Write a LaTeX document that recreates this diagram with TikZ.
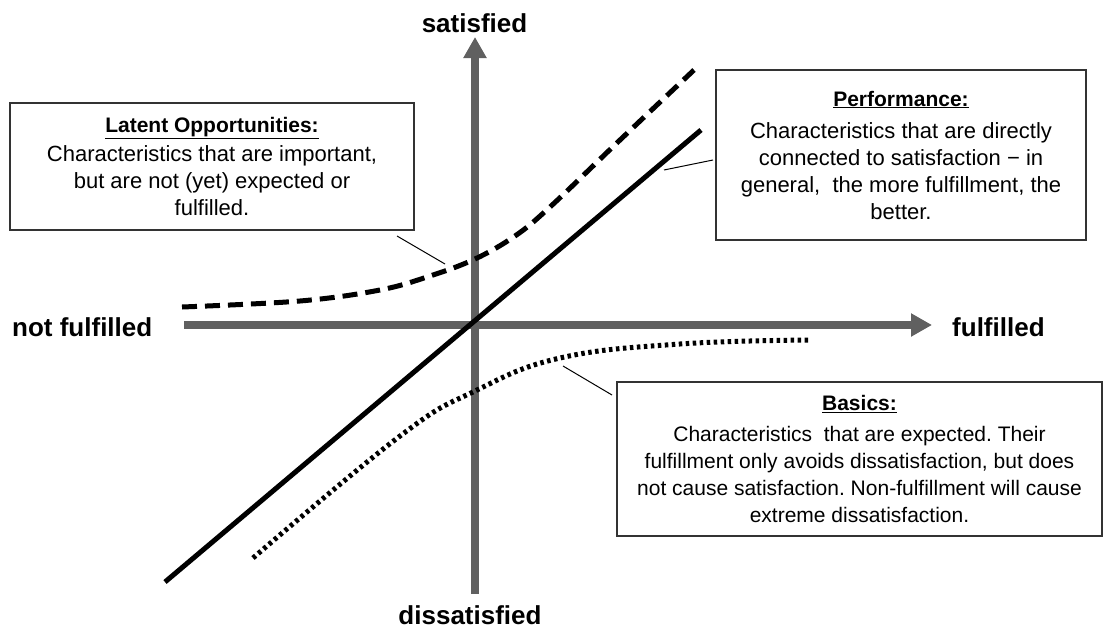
\documentclass[tikz,border=0pt]{standalone}
\usepackage{fontspec}
\setmainfont{Liberation Sans}[Ligatures=NoCommon]
\usetikzlibrary{arrows.meta}
\definecolor{axisgray}{HTML}{606060}
\definecolor{boxline}{HTML}{333333}
\newcommand{\boxtitle}[1]{{\fontsize{21}{27}\selectfont\underline{\textbf{#1}}}}
\begin{document}
\frenchspacing
\begin{tikzpicture}[x=1pt,y=-1pt,
  axisline/.style={draw=axisgray, line width=8pt, -{Triangle[width=22pt,length=21pt]}},
  axislabel/.style={font=\fontsize{26}{30}\selectfont\bfseries, inner sep=0pt},
  kbox/.style={draw=boxline, line width=1.2pt, fill=white, align=center, inner sep=0pt,
    font=\fontsize{22}{27}\selectfont},
  solidline/.style={draw=black, line width=5pt},
  dashcurve/.style={draw=black, line width=5pt, dash pattern=on 15pt off 8pt},
  dotcurve/.style={draw=black, line width=5pt, dash pattern=on 3.5pt off 3.5pt},
  leader/.style={draw=black, line width=1pt}]
\useasboundingbox (0,0) rectangle (1104,629);

% axes
\coordinate (ybot) at (475,594);
\coordinate (ytop) at (475,37);
\coordinate (xleft) at (184,325);
\coordinate (xright) at (932,325);
\draw[axisline] (xleft) -- (xright);
\draw[axisline] (ybot) -- (ytop);

% axis labels
\node[axislabel, anchor=base] (sat) at (474.5,32) {satisfied};
\node[axislabel, anchor=base west] (notful) at (12,336) {not fulfilled};
\node[axislabel, anchor=base west] (ful) at (952,336) {fulfilled};
\node[axislabel, anchor=base] (dissat) at (470,624) {dissatisfied};

% curves
\coordinate (s1) at (165,582);
\coordinate (s2) at (701,130);
\draw[solidline] (s1) -- (s2);
\draw[dashcurve] plot[smooth, tension=0.6] coordinates {(182,307) (300,301) (380,290) (430,276) (475,259) (515,236) (550,207) (620,140) (694,70)};
\draw[dotcurve] plot[smooth, tension=0.7] coordinates {(253,558) (400,436) (475,391) (560,358) (680,344) (810,340)};

% boxes
\node[kbox, minimum width=404pt, minimum height=127pt] (latent) at (212,166.5)
  {\boxtitle{Latent Opportunities:}\\[2pt]
   Characteristics that are important,\\
   but are not (yet) expected or\\
   fulfilled.};
\node[kbox, minimum width=370pt, minimum height=170pt] (perf) at (901,155)
  {\boxtitle{Performance:}\\[5pt]
   Characteristics that are directly\\
   connected to satisfaction − in\\
   general,\ \ the more fulfillment, the\\
   better.};
\node[kbox, minimum width=485pt, minimum height=154pt, font=\fontsize{21}{27}\selectfont] (basics) at (859.5,459)
  {\boxtitle{Basics:}\\[4pt]
   Characteristics\ \ that are expected. Their\\
   fulfillment only avoids dissatisfaction, but does\\
   not cause satisfaction. Non-fulfillment will cause\\
   extreme dissatisfaction.};

% leader lines
\coordinate (la) at (445,264);
\coordinate (lb) at (397,236);
\draw[leader] (la) -- (lb);
\coordinate (pa) at (664,170);
\coordinate (pb) at (713,160);
\draw[leader] (pa) -- (pb);
\coordinate (ba) at (563,366);
\coordinate (bb) at (612,395);
\draw[leader] (ba) -- (bb);
\end{tikzpicture}
\end{document}
